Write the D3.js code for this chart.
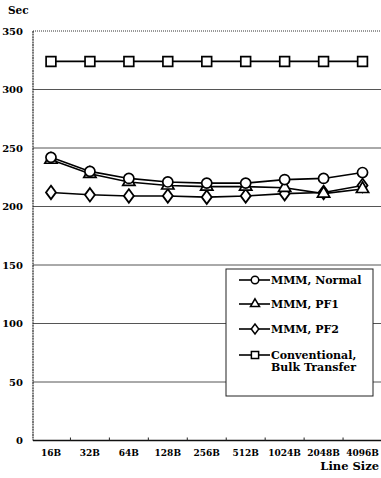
<!DOCTYPE html>
<html><head><meta charset="utf-8">
<script src="https://cdn.jsdelivr.net/npm/d3@7"></script>
<style>body{margin:0;background:#fff}svg{display:block}</style>
</head><body>
<svg id="c" width="381" height="478"></svg>
<script>
const categories = ["16B","32B","64B","128B","256B","512B","1024B","2048B","4096B"];
const normal = [242, 230, 224, 221, 220, 220, 223, 224, 229];
const pf1 = [240, 228, 221, 218, 217, 217, 216, 211, 215];
const pf2 = [212, 210, 209, 209, 208, 209, 211, 212, 218];
const conventional = [324, 324, 324, 324, 324, 324, 324, 324, 324];
const yTicks = [0, 50, 100, 150, 200, 250, 300, 350];
const seriesNames = ["MMM, Normal", "MMM, PF1", "MMM, PF2", "Conventional,|Bulk Transfer"];

const svg = d3.select("#c");
const L = 33, R = 381, T = 31, B = 440.5;
const x = d3.scaleBand().domain(categories).range([L - 1.5, R + 1]);
const y = d3.scaleLinear().domain([0, 350]).range([B, T]);
const font = "'DejaVu Serif', serif";

svg.append("g").selectAll("line").data(yTicks.filter(t => t > 0 && t < 350)).join("line")
  .attr("x1", L).attr("x2", 381).attr("y1", d => y(d)).attr("y2", d => y(d))
  .attr("stroke", "#555").attr("stroke-width", 1);
svg.append("line").attr("x1", L).attr("x2", 381).attr("y1", y(350)).attr("y2", y(350))
  .attr("stroke", "#333").attr("stroke-width", 1).attr("stroke-dasharray", "1,1");
svg.append("line").attr("x1", L).attr("x2", L).attr("y1", y(350)).attr("y2", y(0))
  .attr("stroke", "#222").attr("stroke-width", 1.2).attr("stroke-dasharray", "2,0.6");
svg.append("line").attr("x1", L).attr("x2", 381).attr("y1", y(0)).attr("y2", y(0))
  .attr("stroke", "#111").attr("stroke-width", 1.6);
svg.append("g").selectAll("line").data(categories.slice(1)).join("line")
  .attr("x1", d => x(d)).attr("x2", d => x(d)).attr("y1", y(0)).attr("y2", y(0) - 3)
  .attr("stroke", "#222").attr("stroke-width", 1);

svg.append("g").selectAll("text").data(yTicks).join("text")
  .attr("x", 23).attr("y", d => y(d) + 3.5).attr("text-anchor", "end")
  .attr("font-family", font).attr("font-weight", "bold").attr("font-size", 10)
  .text(d => d);
svg.append("g").selectAll("text").data(categories).join("text")
  .attr("x", d => x(d) + x.bandwidth() / 2).attr("y", 456).attr("text-anchor", "middle")
  .attr("font-family", font).attr("font-weight", "bold").attr("font-size", 9)
  .text(d => d);
svg.append("text").attr("x", 8).attr("y", 14).attr("font-family", font)
  .attr("font-weight", "bold").attr("font-size", 10.5).text("Sec");
svg.append("text").attr("x", 379).attr("y", 470).attr("text-anchor", "end").attr("font-family", font)
  .attr("font-weight", "bold").attr("font-size", 11.5).text("Line Size");

const shapes = [d3.symbolCircle, d3.symbolTriangle, d3.symbolDiamond, d3.symbolSquare];
const sizes = [80, 65, 65, 95];
const data = [normal, pf1, pf2, conventional];
const cx = (d, i) => x(categories[i]) + x.bandwidth() / 2;
const line = d3.line().x((d, i) => cx(d, i)).y(d => y(d));

[3, 2, 1, 0].forEach(s => {
  svg.append("path").datum(data[s]).attr("d", line).attr("fill", "none")
    .attr("stroke", "#000").attr("stroke-width", 1.6);
  svg.append("g").selectAll("path").data(data[s]).join("path")
    .attr("transform", (d, i) => `translate(${cx(d, i)},${y(d)})` + (s === 2 ? " scale(1.15,0.9)" : ""))
    .attr("d", d3.symbol().type(shapes[s]).size(sizes[s]))
    .attr("fill", "#fff").attr("stroke", "#000").attr("stroke-width", 1.7);
});

const lg = svg.append("g");
lg.append("rect").attr("x", 226).attr("y", 269).attr("width", 147).attr("height", 127)
  .attr("fill", "#fff").attr("stroke", "#222").attr("stroke-width", 1);
const rowsY = [280, 304, 329, 355];
seriesNames.forEach((n, s) => {
  const yy = rowsY[s];
  lg.append("line").attr("x1", 239).attr("x2", 270).attr("y1", yy).attr("y2", yy)
    .attr("stroke", "#000").attr("stroke-width", 1.6);
  lg.append("path").attr("transform", `translate(255,${yy})` + (s === 2 ? " scale(1.15,0.9)" : ""))
    .attr("d", d3.symbol().type(shapes[s]).size(sizes[s] * 0.55))
    .attr("fill", "#fff").attr("stroke", "#000").attr("stroke-width", 1.5);
  const parts = n.split("|");
  parts.forEach((p, k) => {
    lg.append("text").attr("x", 271).attr("y", yy + 4 + k * 12)
      .attr("font-family", font).attr("font-weight", "bold").attr("font-size", 11).text(p);
  });
});
</script>
</body></html>
